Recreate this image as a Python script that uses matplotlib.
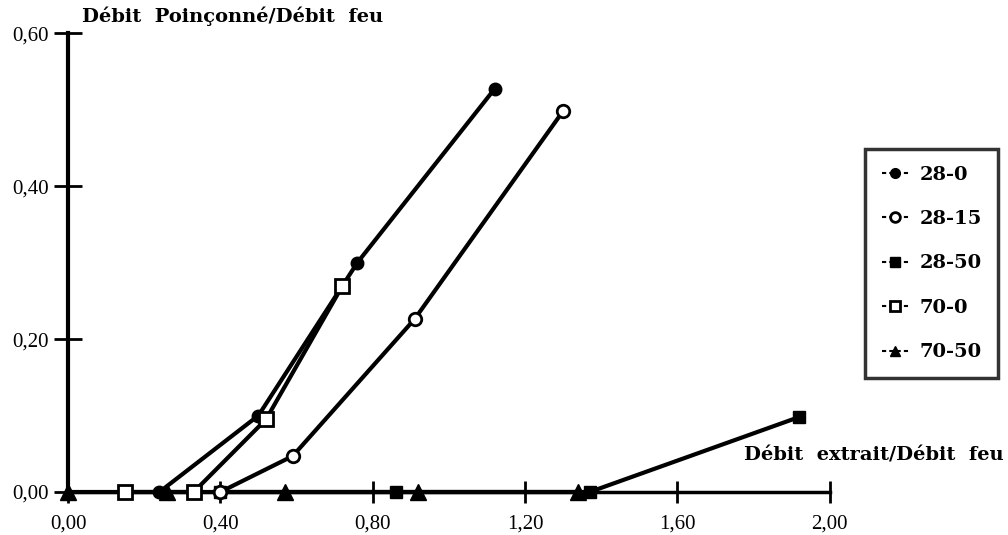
import matplotlib.pyplot as plt
import numpy as np

plt.rcParams['font.family'] = ['Liberation Serif', 'DejaVu Serif']

# values
x_28_0 = [0.24, 0.50, 0.76, 1.12]
y_28_0 = [0.00, 0.10, 0.30, 0.527]

x_28_15 = [0.40, 0.59, 0.91, 1.30]
y_28_15 = [0.00, 0.047, 0.226, 0.498]

x_28_50 = [0.40, 0.86, 1.37, 1.92]
y_28_50 = [0.00, 0.00, 0.00, 0.098]

x_70_0 = [0.15, 0.33, 0.52, 0.72]
y_70_0 = [0.00, 0.00, 0.095, 0.269]

x_70_50 = [0.00, 0.26, 0.57, 0.92, 1.34]
y_70_50 = [0.00, 0.00, 0.00, 0.00, 0.00]

x_tic = [0.0, 0.4, 0.8, 1.2, 1.6, 2.0]
y_tic = [0.0, 0.2, 0.4, 0.6]

fig = plt.figure(figsize=(10.08, 5.35), dpi=100)
ax = fig.add_axes([0.0675, 0.0804, 0.7555, 0.8576])

lw = 3
ms = 9
ax.plot(x_70_50, y_70_50, '-^', color='black', lw=lw, ms=ms + 2, mfc='black', label='70-50', zorder=2, clip_on=False)
ax.plot(x_28_50, y_28_50, '-s', color='black', lw=lw, ms=ms, mfc='black', label='28-50', zorder=3, clip_on=False)
ax.plot(x_28_15, y_28_15, '-o', color='black', lw=lw, ms=ms, mfc='white', mew=2, label='28-15', zorder=3, clip_on=False)
ax.plot(x_70_0, y_70_0, '-s', color='black', lw=lw, ms=ms + 1, mfc='white', mew=2, label='70-0', zorder=4, clip_on=False)
ax.plot(x_28_0, y_28_0, '-o', color='black', lw=lw, ms=ms, mfc='black', label='28-0', zorder=3, clip_on=False)

ax.set_xlim(0, 2.0)
ax.set_ylim(0, 0.6)
ax.spines['top'].set_visible(False)
ax.spines['right'].set_visible(False)
ax.spines['left'].set_linewidth(3)
ax.spines['bottom'].set_linewidth(2.5)
ax.set_xticks(x_tic)
ax.set_xticklabels([('%.2f' % v).replace('.', ',') for v in x_tic], fontsize=15)
ax.set_yticks(y_tic)
ax.set_yticklabels([('%.2f' % v).replace('.', ',') for v in y_tic], fontsize=15)
ax.tick_params(axis='x', direction='inout', length=16, width=2, pad=8)
ax.tick_params(axis='y', direction='inout', length=20, width=2, pad=4)

bold_font = {'family': 'DejaVu Serif', 'weight': 'bold', 'size': 14}
fig.text(82 / 1008, 1 - 16 / 535, 'Débit  Poinçonné/Débit  feu', fontdict=bold_font,
         va='center', ha='left')
fig.text(1004 / 1008, 1 - 456 / 535, 'Débit  extrait/Débit  feu', fontdict=bold_font,
         va='center', ha='right')

handles, labels = ax.get_legend_handles_labels()
order = ['28-0', '28-15', '28-50', '70-0', '70-50']
hl = dict(zip(labels, handles))
leg = fig.legend([hl[k] for k in order], order, loc='upper left',
                 bbox_to_anchor=(865 / 1008, 1 - 149 / 535), frameon=True, fancybox=False,
                 edgecolor='black', prop=bold_font,
                 handlelength=1.4, handletextpad=0.55, labelspacing=1.36,
                 borderpad=0.85, borderaxespad=0)
leg.get_frame().set_linewidth(2.5)
for line in leg.get_lines():
    line.set_linewidth(1.5)
    line.set_linestyle((0, (2, 1.5)))
    line.set_markersize(7)

plt.savefig('out.png', dpi=100)
